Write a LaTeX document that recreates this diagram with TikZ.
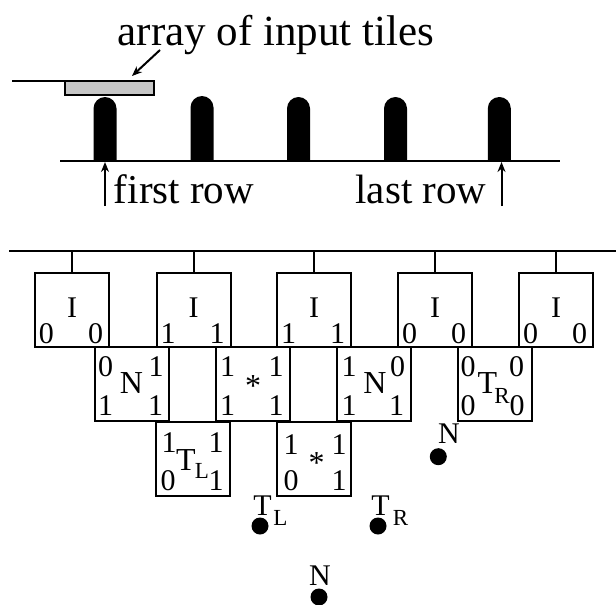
\documentclass[tikz,border=0pt]{standalone}
\usepackage{fontspec}
\setmainfont{Liberation Serif}
\usetikzlibrary{arrows.meta}
\begin{document}
\begin{tikzpicture}[x=0.5pt,y=-0.5pt,line width=1pt,
  tilebox/.style={draw,line width=1pt,minimum width=37pt,minimum height=37pt,
    inner sep=0pt,outer sep=0pt,anchor=north west},
  big/.style={font=\fontsize{20.5}{24}\selectfont,inner sep=0pt,anchor=base},
  lab/.style={font=\fontsize{15}{17}\selectfont,inner sep=0pt,anchor=base},
  kind/.style={font=\fontsize{16}{18}\selectfont,inner sep=0pt,anchor=base},
  sublab/.style={font=\fontsize{11.5}{13}\selectfont,inner sep=0pt,anchor=base},
  star/.style={font=\fontsize{16}{18}\selectfont,inner sep=0pt,anchor=center},
  dot/.style={circle,fill,inner sep=0pt,minimum size=8.5pt},
  tip/.style={-{Stealth[length=5pt,width=4pt]}}]
\useasboundingbox (0,0) rectangle (616,605);

% ---------- input tiles entering the rows ----------
\node[big,font=\fontsize{21.5}{25}\selectfont] (caption) at (276,45) {array of input tiles};
\coordinate (captail) at (160,50);
\node[draw,fill=gray!45,line width=1pt,inner sep=0pt,outer sep=0pt,anchor=north west,
      minimum width=44.5pt,minimum height=7pt] (tile) at (65,81) {};
\coordinate (feed) at (12,81);
\draw (feed) -- (tile.north west);
\coordinate (capend) at (132,76);
\draw[tip] (captail) -- (capend);

% rows (pillars standing on the base line)
\coordinate (baseL) at (60,161);
\coordinate (baseR) at (560,161);
\draw (baseL) -- (baseR);
\foreach \x/\t/\n in {105/97/1,202/96/2,298.5/97/3,395.5/97/4,499.3/97/5}{
  \fill (\x-11.5,161) -- (\x-11.5,\t+11.5) arc[start angle=180,end angle=360,radius=11.5]
        -- (\x+11.5,161) -- cycle;
  \coordinate (foot\n) at (\x,162);
}
\coordinate (firsttail) at (105,206);
\coordinate (lasttail) at (501.5,206);
\coordinate (lasthead) at (501.5,162);
\draw[tip] (firsttail) -- (foot1);
\draw[tip] (lasttail) -- (lasthead);
\node[big] (firstrow) at (184,203) {first row};
\node[big] (lastrow) at (421,203) {last row};

% ---------- tile assembly ----------
\coordinate (busL) at (9,251);
\coordinate (busR) at (616,251);
\draw (busL) -- (busR);

% first row of I tiles
\foreach \L/\n/\a/\b in {35/1/0/0,156.5/2/1/1,277/3/1/1,398/4/0/0,519/5/0/0}{
  \node[tilebox] (i\n) at (\L,273) {};
  \coordinate (bus\n) at (\L+37,251);
  \draw (bus\n) -- (i\n.north);
  \node[lab] (i\n-c) at (\L+37,317) {I};
  \node[lab] (i\n-l) at (\L+11.5,343) {\a};
  \node[lab] (i\n-r) at (\L+60.5,343) {\b};
}

% second row
\node[tilebox] (n1) at (94.5,347) {};
\node[lab] (n1-tl) at (105.5,376.5) {0};
\node[lab] (n1-tr) at (156,376) {1};
\node[lab] (n1-bl) at (105.5,415) {1};
\node[lab] (n1-br) at (155.5,415) {1};
\node[kind] (n1-c) at (131.5,393) {N};

\node[tilebox] (s1) at (215.5,347) {};
\node[lab] (s1-tl) at (227.5,376) {1};
\node[lab] (s1-tr) at (276,376) {1};
\node[lab] (s1-bl) at (227.5,415) {1};
\node[lab] (s1-br) at (276,415) {1};
\node[star] (s1-c) at (253,386) {*};

\node[tilebox] (n2) at (336.5,347) {};
\node[lab] (n2-tl) at (349,376) {1};
\node[lab] (n2-tr) at (397.5,376.5) {0};
\node[lab] (n2-bl) at (349,415) {1};
\node[lab] (n2-br) at (396.7,415) {1};
\node[kind] (n2-c) at (375,393) {N};

\node[tilebox] (r1) at (457.5,347) {};
\node[lab] (r1-tl) at (468,376.5) {0};
\node[lab] (r1-tr) at (516.5,376.5) {0};
\node[lab] (r1-bl) at (468,415) {0};
\node[lab] (r1-br) at (517,415) {0};
\node[kind] (r1-c) at (487.5,393) {T};
\node[sublab] (r1-s) at (502,403) {R};

% third row
\node[tilebox] (l1) at (156,422) {};
\node[lab] (l1-tl) at (169,452) {1};
\node[lab] (l1-tr) at (216,452) {1};
\node[lab] (l1-bl) at (168,490) {0};
\node[lab] (l1-br) at (216,490) {1};
\node[kind] (l1-c) at (186,470) {T};
\node[sublab] (l1-s) at (202,478) {L};

\node[tilebox] (s2) at (277,422) {};
\node[lab] (s2-tl) at (291,454) {1};
\node[lab] (s2-tr) at (339,454) {1};
\node[lab] (s2-bl) at (291,490.5) {0};
\node[lab] (s2-br) at (339,490) {1};
\node[star] (s2-c) at (316.5,463) {*};

% open sites with the tile that attaches next
\node[dot] (dn1) at (438.3,456.7) {};
\node[lab] (dn1-t) at (449,443) {N};
\node[dot] (dtl) at (260,526) {};
\node[lab] (dtl-t) at (262.5,515) {T};
\node[sublab] (dtl-s) at (280.5,525) {L};
\node[dot] (dtr) at (378,526) {};
\node[lab] (dtr-t) at (380.5,515) {T};
\node[sublab] (dtr-s) at (400.5,525) {R};
\node[dot] (dn2) at (319,597) {};
\node[lab] (dn2-t) at (320,585) {N};
\end{tikzpicture}
\end{document}
